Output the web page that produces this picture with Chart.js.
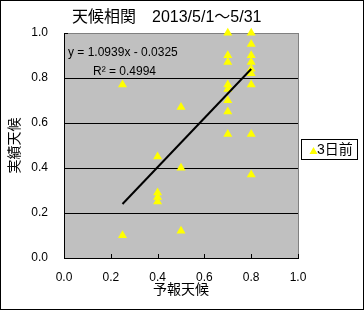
<!DOCTYPE html>
<html>
<head>
<meta charset="utf-8">
<script src="https://cdn.jsdelivr.net/npm/chart.js@4.4.0/dist/chart.umd.min.js"></script>
<style>
    html, body { margin: 0; padding: 0; background: #fff; }
    #wrap { width: 364px; height: 310px; }
</style>
</head>
<body>
<div id="wrap"><canvas id="weatherChart" width="364" height="310"></canvas></div>
<script>
// 予報天候 (x) と 実績天候 (y)
const forecast = [0.25, 0.25,
    0.4, 0.4, 0.4, 0.4,
    0.5, 0.5, 0.5,
    0.7, 0.7, 0.7, 0.7, 0.7, 0.7, 0.7, 0.7,
    0.8, 0.8, 0.8, 0.8, 0.8, 0.8, 0.8, 0.8, 0.8];
const actual = [0.77, 0.10,
    0.45, 0.29, 0.27, 0.25,
    0.67, 0.40, 0.12,
    1.00, 0.90, 0.87, 0.77, 0.75, 0.70, 0.65, 0.55,
    1.00, 0.95, 0.90, 0.87, 0.84, 0.82, 0.77, 0.55, 0.37];

// 近似直線 (図から読んだ両端)
const trendX = [0.25, 0.80];
const trendY = [0.24, 0.84];

const axisTicks = [0, 0.2, 0.4, 0.6, 0.8, 1.0];
const seriesName = "3日前";
const titleText = "天候相関　2013/5/1～5/31";
const equationLines = ["y = 1.0939x - 0.0325", "R² = 0.4994"];

const numFont = "'Liberation Sans', 'Noto Sans CJK JP', sans-serif";
const jpFont = "'Noto Sans CJK JP', sans-serif";

const excelLook = {
    id: "excelLook",
    beforeDraw(chart) {
        const { ctx, chartArea: a } = chart;
        ctx.save();
        ctx.fillStyle = "#fff";
        ctx.fillRect(0, 0, chart.width, chart.height);
        ctx.fillStyle = "#c0c0c0";
        ctx.fillRect(a.left, a.top, a.right - a.left, a.bottom - a.top);
        ctx.restore();
    },
    beforeDatasetsDraw(chart) {
        // 内向きの目盛り
        const { ctx, chartArea: a, scales } = chart;
        ctx.save();
        ctx.strokeStyle = "#000";
        ctx.lineWidth = 1;
        ctx.beginPath();
        axisTicks.forEach(v => {
            const px = Math.round(scales.x.getPixelForValue(v)) + 0.5;
            ctx.moveTo(px, a.bottom);
            ctx.lineTo(px, a.bottom - 4);
            const py = Math.round(scales.y.getPixelForValue(v)) + 0.5;
            ctx.moveTo(a.left, py);
            ctx.lineTo(a.left + 4, py);
        });
        ctx.stroke();
        ctx.restore();
    },
    afterDraw(chart) {
        const { ctx, chartArea: a } = chart;
        ctx.save();
        // タイトル
        ctx.fillStyle = "#000";
        ctx.textBaseline = "middle";
        ctx.textAlign = "left";
        ctx.font = "16px " + numFont;
        ctx.fillText(titleText, 72, 18);

        // 近似式
        ctx.font = "12px " + numFont;
        ctx.fillText(equationLines[0], a.left + 4, 53);
        ctx.fillText(equationLines[1], a.left + 29, 72);

        // 凡例
        ctx.fillStyle = "#fff";
        ctx.fillRect(301.5, 139.5, 56, 20);
        ctx.strokeStyle = "#000";
        ctx.lineWidth = 1;
        ctx.strokeRect(301.5, 139.5, 56, 20);
        ctx.fillStyle = "#ffff00";
        ctx.beginPath();
        ctx.moveTo(313.5, 147);
        ctx.lineTo(317.5, 154);
        ctx.lineTo(309.5, 154);
        ctx.closePath();
        ctx.fill();
        ctx.fillStyle = "#000";
        ctx.font = "14px " + numFont;
        ctx.fillText(seriesName, 317, 150);

        // 外枠
        ctx.strokeRect(0.5, 0.5, chart.width - 1, chart.height - 1);
        ctx.restore();
    }
};

new Chart(document.getElementById("weatherChart"), {
    type: "scatter",
    data: {
        datasets: [
            {
                label: "近似直線",
                data: trendX.map((x, i) => ({ x: x, y: trendY[i] })),
                showLine: true,
                borderColor: "#000",
                borderWidth: 2,
                pointRadius: 0,
                order: 0
            },
            {
                label: seriesName,
                data: forecast.map((x, i) => ({ x: x, y: actual[i] })),
                pointStyle: "triangle",
                pointRadius: 5.2,
                pointBackgroundColor: "#ffff00",
                pointBorderColor: "#ffff00",
                pointBorderWidth: 0,
                clip: false,
                order: 1
            }
        ]
    },
    options: {
        responsive: false,
        devicePixelRatio: 1,
        animation: false,
        layout: { padding: { left: 0, right: 66, top: 33, bottom: 0 } },
        plugins: {
            legend: { display: false },
            tooltip: { enabled: false },
            title: { display: false }
        },
        scales: {
            x: {
                type: "linear",
                min: 0,
                max: 1,
                afterBuildTicks: s => { s.ticks = axisTicks.map(v => ({ value: v })); },
                afterFit: s => { s.height = 52; },
                ticks: {
                    color: "#000",
                    padding: 12,
                    font: { family: numFont, size: 12 },
                    callback: v => Number(v).toFixed(1)
                },
                grid: {
                    drawTicks: false,
                    color: c => (c.tick && c.tick.value === 1 ? "#808080" : "rgba(0,0,0,0)")
                },
                border: { display: true, color: "#000", width: 1 },
                title: {
                    display: true,
                    text: "予報天候",
                    color: "#000",
                    font: { family: jpFont, size: 14 },
                    padding: { top: 0, bottom: 13 }
                }
            },
            y: {
                type: "linear",
                min: 0,
                max: 1,
                afterBuildTicks: s => { s.ticks = axisTicks.map(v => ({ value: v })); },
                afterFit: s => { s.width = 64; },
                ticks: {
                    color: "#000",
                    padding: 16,
                    font: { family: numFont, size: 12 },
                    callback: v => Number(v).toFixed(1)
                },
                grid: {
                    drawTicks: false,
                    color: c => {
                        if (!c.tick) return "#000";
                        if (c.tick.value === 1) return "#808080";
                        if (c.tick.value === 0) return "rgba(0,0,0,0)";
                        return "#000";
                    }
                },
                border: { display: true, color: "#000", width: 1 },
                title: {
                    display: true,
                    text: "実績天候",
                    color: "#000",
                    font: { family: jpFont, size: 14 },
                    padding: { top: 5, bottom: 0 }
                }
            }
        }
    },
    plugins: [excelLook]
});
</script>
</body>
</html>
